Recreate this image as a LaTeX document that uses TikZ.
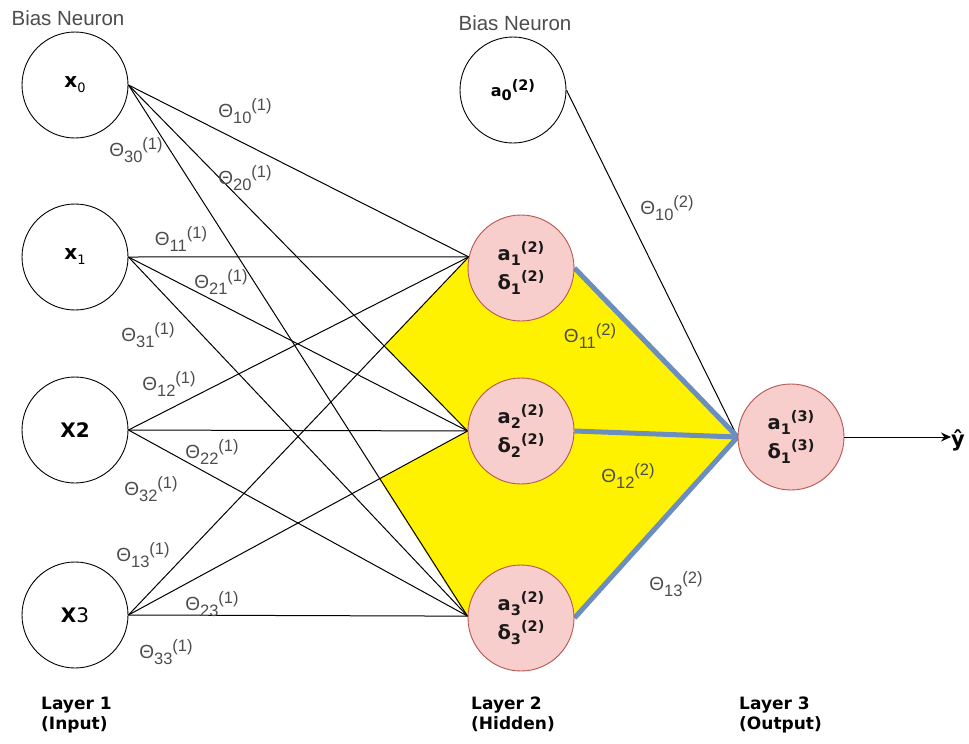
\documentclass[tikz,border=0pt]{standalone}
\usepackage{fontspec}
\setmainfont{Liberation Sans}
\newfontfamily\nfont{DejaVu Sans}
\usetikzlibrary{arrows.meta}

\definecolor{pinkfill}{HTML}{F8CECC}
\definecolor{pinkline}{HTML}{B85450}
\definecolor{bluelink}{HTML}{6C8EBF}
\definecolor{hilite}{HTML}{FFF200}
\definecolor{labgray}{HTML}{4D4D4D}

\pgfdeclarelayer{back}
\pgfsetlayers{back,main}

% weight label: Theta, subscript indices, superscript layer
\newcommand\wlab[2]{Θ\raisebox{-0.3em}{\fontsize{16.5}{16.5}\selectfont #1}\raisebox{0.36em}{\fontsize{16.5}{16.5}\selectfont (#2)}}
% neuron symbol with subscript index and superscript layer
\newcommand\nsym[3]{#1\raisebox{-0.27em}{\fontsize{14.5}{14.5}\selectfont #2}\raisebox{0.4em}{\fontsize{14.5}{14.5}\selectfont (#3)}}

\tikzset{
  neuron/.style={circle, draw=black, fill=white, line width=0.9pt,
    minimum size=106pt, inner sep=0pt,
    font=\nfont\bfseries\fontsize{20}{20}\selectfont},
  unit/.style={neuron, draw=pinkline, fill=pinkfill, align=center,
    text=black!90, font=\nfont\bfseries\fontsize{19.5}{29}\selectfont},
  wire/.style={draw=black, line width=1pt},
  bluewire/.style={draw=bluelink, line width=5pt},
  wlabel/.style={inner sep=0pt, text=labgray, font=\fontsize{19}{19}\selectfont},
  biaslabel/.style={inner sep=0pt, text=labgray, font=\fontsize{20.5}{20.5}\selectfont},
  layerlabel/.style={inner sep=0pt, anchor=north west, align=left,
    font=\nfont\bfseries\fontsize{17}{20}\selectfont}
}

\begin{document}
\begin{tikzpicture}[x=1pt, y=-1pt]
\useasboundingbox (0,0) rectangle (969,744);

% input layer
\node[neuron] (x0) at (75,85)  {x\raisebox{-0.25em}{\fontsize{13}{13}\selectfont\mdseries 0}};
\node[neuron] (x1) at (75,257) {x\raisebox{-0.25em}{\fontsize{13}{13}\selectfont\mdseries 1}};
\node[neuron] (x2) at (75,430) {X2};
\node[neuron] (x3) at (75,615) {X{\mdseries 3}};

% hidden layer
\node[neuron, font=\nfont\bfseries\fontsize{16}{16}\selectfont] (b2) at (513,90) {\nsym{a}{0}{2}};
\node[unit] (h1) at (521,268) {\nsym{a}{1}{2}\\\nsym{δ}{1}{2}};
\node[unit] (h2) at (521,431) {\nsym{a}{2}{2}\\\nsym{δ}{2}{2}};
\node[unit] (h3) at (521,618) {\nsym{a}{3}{2}\\\nsym{δ}{3}{2}};

% output layer
\node[unit] (o1) at (791,437) {\nsym{a}{1}{3}\\\nsym{δ}{1}{3}};
\node[inner sep=0pt, anchor=west, font=\nfont\bfseries\fontsize{21}{21}\selectfont] (yhat) at (951,440) {ŷ};

\begin{pgfonlayer}{back}
\fill[white] (0,0) rectangle (969,744);

% highlighted region behind the hidden-to-output weights
\fill[hilite] (h1.168)
  -- (intersection of x3.east--h1.168 and x0.east--h2.west)
  -- (h2.west)
  -- (intersection of x0.east--h3.west and x3.east--h2.west)
  -- (h3.west) -- (h3.east) -- (o1.west) -- (h1.east) -- cycle;

% input to hidden weights
\foreach \i in {0,1,2,3}{
  \draw[wire] (x\i.east) -- (h1.168);
  \draw[wire] (x\i.east) -- (h2.west);
  \draw[wire] (x\i.east) -- (h3.178);
}

% hidden to output weights
\draw[wire] (b2.east) -- (o1.west);
\draw[bluewire] (h1.east) -- (o1.west);
\draw[bluewire] (h2.east) -- (o1.west);
\draw[bluewire] (h3.east) -- (o1.west);
\end{pgfonlayer}

% output arrow
\draw[wire, -{Stealth[length=10pt, width=9pt]}] (o1.east) -- (o1.east -| yhat.west);

% weight labels
\node[wlabel] (t10a) at (245,111) {\wlab{10}{1}};
\node[wlabel] (t20a) at (245,178) {\wlab{20}{1}};
\node[wlabel] (t30a) at (136,150) {\wlab{30}{1}};
\node[wlabel] (t11a) at (181,239) {\wlab{11}{1}};
\node[wlabel] (t21a) at (221,282) {\wlab{21}{1}};
\node[wlabel] (t31a) at (148,335) {\wlab{31}{1}};
\node[wlabel] (t12a) at (169,384) {\wlab{12}{1}};
\node[wlabel] (t22a) at (212,452) {\wlab{22}{1}};
\node[wlabel] (t32a) at (151,489) {\wlab{32}{1}};
\node[wlabel] (t13a) at (143,555) {\wlab{13}{1}};
\node[wlabel] (t23a) at (212,604) {\wlab{23}{1}};
\node[wlabel] (t33a) at (166,652) {\wlab{33}{1}};
\node[wlabel] (t10b) at (667,208) {\wlab{10}{2}};
\node[wlabel] (t11b) at (590,336) {\wlab{11}{2}};
\node[wlabel] (t12b) at (628,476) {\wlab{12}{2}};
\node[wlabel] (t13b) at (676,584) {\wlab{13}{2}};

% bias captions
\node[biaslabel] (bias1) at (68,18) {Bias Neuron};
\node[biaslabel] (bias2) at (515,23) {Bias Neuron};

% layer captions
\node[layerlabel] (lay1) at (41,697) {Layer 1\\(Input)};
\node[layerlabel] (lay2) at (471,697) {Layer 2\\(Hidden)};
\node[layerlabel] (lay3) at (739,697) {Layer 3\\(Output)};
\end{tikzpicture}
\end{document}
